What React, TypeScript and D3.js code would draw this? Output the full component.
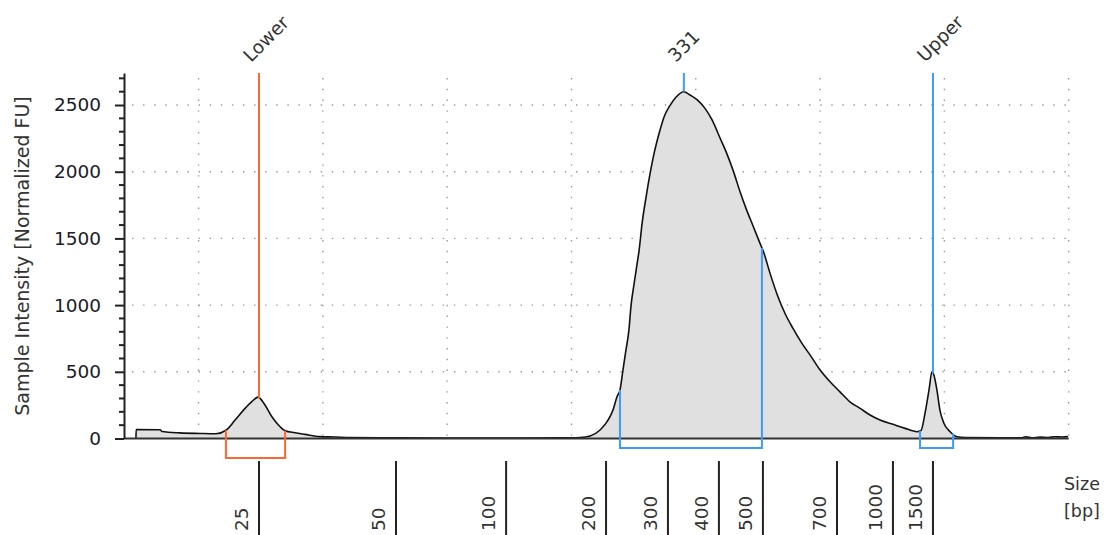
import { useEffect, useRef } from "react";
import * as d3 from "d3";

// migration time [s] of each sample point, and its intensity [normalized FU]
const times = [
  22.48, 22.49, 23.45, 23.53, 24.25, 25.06, 25.7, 26.1, 26.47, 26.87, 27.15, 27.39,
  27.67, 27.95, 28.28, 28.48, 28.88, 29.28, 29.88, 30.49, 31.09, 33.1, 35.11, 37.93,
  39.54, 40.34, 40.75, 41.15, 41.43, 41.67, 41.83, 41.95, 42.07, 42.19, 42.31, 42.39,
  42.52, 42.64, 42.72, 42.84, 43.0, 43.16, 43.32, 43.52, 43.72, 43.96, 44.2, 44.52,
  44.77, 45.05, 45.37, 45.65, 45.97, 46.26, 46.5, 46.78, 47.02, 47.3, 47.58, 47.74,
  47.99, 48.31, 48.59, 48.91, 49.27, 49.6, 50.0, 50.4, 50.8, 51.2, 51.61, 52.01,
  52.41, 52.93, 53.42, 53.9, 54.06, 54.22, 54.38, 54.5, 54.58, 54.7, 54.82, 54.98,
  55.23, 55.51, 55.83, 57.24, 58.12, 58.28, 58.52, 58.85, 59.17, 59.45, 59.73, 59.97,
];
const intensity = [
  0, 68, 66, 52, 42, 38, 36, 62, 138, 226, 278, 310,
  251, 163, 88, 58, 43, 31, 14, 11, 7, 5, 4, 4,
  5, 8, 19, 64, 126, 213, 313, 363, 513, 662, 812, 987,
  1162, 1311, 1411, 1613, 1810, 1985, 2135, 2284, 2409, 2496, 2558, 2600,
  2575, 2540, 2475, 2390, 2255, 2130, 2010, 1850, 1725, 1595, 1465, 1390,
  1236, 1061, 937, 825, 713, 625, 513, 425, 350, 275, 226, 176,
  138, 106, 76, 51, 60, 189, 363, 500, 475, 363, 213, 114,
  51, 13, 7, 5, 6, 12, 6, 10, 8, 13, 11, 14,
];

// ladder calibration: fragment size [bp] and its migration time [s]
const ladderSizes = ["25", "50", "100", "200", "300", "400", "500", "700", "1000", "1500"];
const ladderTimes = [27.43, 32.94, 37.37, 41.39, 43.88, 45.93, 47.7, 50.68, 52.93, 54.54];

// called peaks
const peakLabels = ["Lower", "331", "Upper"];
const peakTimes = [27.43, 44.52, 54.54];

// integration regions
const regionStarts = [26.1, 41.95, 54.02];
const regionEnds = [28.48, 47.66, 55.35];

const yTicks = [0, 500, 1000, 1500, 2000, 2500];
const gridTimes = [25, 30, 35, 40, 45, 50, 55, 60];

const ORANGE = "#ff6633";
const BLUE = "#3d9bff";
const FONT = "DejaVu Sans, sans-serif";

export default function App() {
  const ref = useRef(null);

  useEffect(() => {
    const svg = d3.select(ref.current);
    svg.selectAll("*").remove();

    const x = d3.scaleLinear().domain([22, 60]).range([124, 1068.7]);
    const y = d3.scaleLinear().domain([0, 2740]).range([438.5, 73]);

    const valueAt = (t) => {
      const i = d3.bisectLeft(times, t);
      if (i <= 0) return intensity[0];
      if (i >= times.length) return intensity[times.length - 1];
      const f = (t - times[i - 1]) / (times[i] - times[i - 1]);
      return intensity[i - 1] + f * (intensity[i] - intensity[i - 1]);
    };

    //dotted grid
    svg
      .append("g")
      .selectAll("line")
      .data(yTicks.filter((d) => d > 0))
      .join("line")
      .attr("x1", 132)
      .attr("x2", x(60))
      .attr("y1", (d) => y(d))
      .attr("y2", (d) => y(d))
      .attr("stroke", "#9a9a9a")
      .attr("stroke-width", 1.4)
      .attr("stroke-dasharray", "1.4 9.7");
    svg
      .append("g")
      .selectAll("line")
      .data(gridTimes)
      .join("line")
      .attr("x1", (d) => x(d))
      .attr("x2", (d) => x(d))
      .attr("y1", 78)
      .attr("y2", y(0))
      .attr("stroke", "#9a9a9a")
      .attr("stroke-width", 1.4)
      .attr("stroke-dasharray", "1.4 9.4");

    //electropherogram
    const pts = times.map((t, i) => [t, intensity[i]]);
    svg
      .append("path")
      .datum(pts)
      .attr("fill", "#e0e0e0")
      .attr(
        "d",
        d3
          .area()
          .curve(d3.curveMonotoneX)
          .x((d) => x(d[0]))
          .y0(y(0))
          .y1((d) => y(d[1]))
      );
    svg
      .append("path")
      .datum(pts)
      .attr("fill", "none")
      .attr("stroke", "#111")
      .attr("stroke-width", 1.6)
      .attr(
        "d",
        d3
          .line()
          .curve(d3.curveMonotoneX)
          .x((d) => x(d[0]))
          .y((d) => y(d[1]))
      );

    //baseline
    svg
      .append("line")
      .attr("x1", x(22))
      .attr("x2", x(60))
      .attr("y1", y(0))
      .attr("y2", y(0))
      .attr("stroke", "#333")
      .attr("stroke-width", 2);

    //region brackets
    for (let i = 0; i < regionStarts.length; i++) {
      const s = regionStarts[i];
      const e = regionEnds[i];
      const bottom = y(0) + (i === 0 ? 19.5 : 9.5);
      svg
        .append("path")
        .attr("fill", "none")
        .attr("stroke", i === 0 ? ORANGE : BLUE)
        .attr("stroke-width", 2)
        .attr(
          "d",
          `M${x(s)},${y(valueAt(s))}V${bottom}H${x(e)}V${y(valueAt(e))}`
        );
    }

    //peak markers and labels
    for (let i = 0; i < peakTimes.length; i++) {
      const t = peakTimes[i];
      svg
        .append("line")
        .attr("x1", x(t))
        .attr("x2", x(t))
        .attr("y1", 73)
        .attr("y2", y(valueAt(t)))
        .attr("stroke", i === 0 ? ORANGE : BLUE)
        .attr("stroke-width", 2);
      svg
        .append("text")
        .attr("transform", `translate(${x(t) - 8},63) rotate(-45)`)
        .style("font-family", FONT)
        .style("font-size", "18.5px")
        .style("fill", "#333")
        .text(peakLabels[i]);
    }

    //y axis
    const yAxis = svg
      .append("g")
      .attr("transform", "translate(124,0)")
      .call(
        d3
          .axisLeft(y)
          .tickValues(yTicks)
          .tickFormat(d3.format("d"))
          .tickSize(9)
          .tickSizeOuter(0)
          .tickPadding(14)
      );
    yAxis.select(".domain").attr("stroke", "#222").attr("stroke-width", 2);
    yAxis.selectAll(".tick line").attr("stroke", "#222").attr("stroke-width", 2);
    yAxis
      .selectAll(".tick text")
      .style("font-family", FONT)
      .style("font-size", "18.5px")
      .attr("fill", "#1a1a2a");
    yAxis
      .selectAll(".minor")
      .data(d3.range(0, 2701, 100).filter((d) => d % 500 !== 0))
      .join("line")
      .attr("x1", -5)
      .attr("x2", 0)
      .attr("y1", (d) => y(d))
      .attr("y2", (d) => y(d))
      .attr("stroke", "#222")
      .attr("stroke-width", 2);

    svg
      .append("text")
      .attr("transform", "translate(29,256) rotate(-90)")
      .attr("text-anchor", "middle")
      .style("font-family", FONT)
      .style("font-size", "19px")
      .style("fill", "#333")
      .text("Sample Intensity [Normalized FU]");

    //size ladder
    const ladder = svg
      .append("g")
      .selectAll("g")
      .data(ladderTimes)
      .join("g")
      .attr("transform", (d) => `translate(${x(d)},0)`);
    ladder
      .append("line")
      .attr("y1", 461)
      .attr("y2", 535)
      .attr("stroke", "#222")
      .attr("stroke-width", 2);
    ladder
      .append("text")
      .attr("transform", "translate(-11,531) rotate(-90)")
      .style("font-family", FONT)
      .style("font-size", "18.5px")
      .style("fill", "#333")
      .text((d, i) => ladderSizes[i]);

    svg
      .append("text")
      .attr("x", 1064)
      .attr("y", 490)
      .style("font-family", FONT)
      .style("font-size", "17.5px")
      .style("fill", "#333")
      .text("Size");
    svg
      .append("text")
      .attr("x", 1064)
      .attr("y", 517)
      .style("font-family", FONT)
      .style("font-size", "17.5px")
      .style("fill", "#333")
      .text("[bp]");
  }, []);

  return (
    <svg
      ref={ref}
      width="1120"
      height="535"
      style={{ position: "absolute", left: 0, top: 0, background: "#fff" }}
    />
  );
}
